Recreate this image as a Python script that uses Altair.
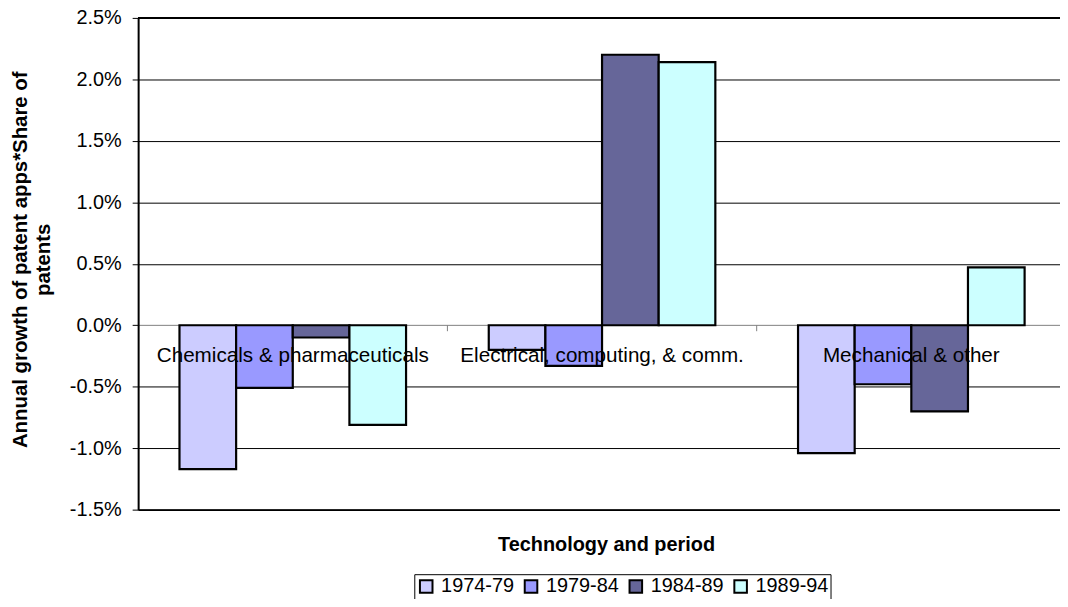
import altair as alt
import pandas as pd

categories = ["Chemicals & pharmaceuticals", "Electrical, computing, & comm.", "Mechanical & other"]
periods = ["1974-79", "1979-84", "1984-89", "1989-94"]
v1974_79 = [-0.0117, -0.0020, -0.0104]
v1979_84 = [-0.0051, -0.0033, -0.0048]
v1984_89 = [-0.0010, 0.0220, -0.0070]
v1989_94 = [-0.0081, 0.0214, 0.0047]
colors = ["#CCCCFF", "#9999FF", "#666699", "#CCFFFF"]
y_ticks = [-0.015, -0.01, -0.005, 0.0, 0.005, 0.01, 0.015, 0.02, 0.025]

rows = []
for p, vals in zip(periods, [v1974_79, v1979_84, v1984_89, v1989_94]):
    for c, v in zip(categories, vals):
        rows.append({"category": c, "period": p, "value": v})
df = pd.DataFrame(rows)
cat_df = pd.DataFrame({"category": categories})
bound_df = pd.DataFrame({"category": categories[1:]})

FONT = "Liberation Sans"
W, H = 928, 495

xscale = alt.Scale(domain=categories, range=[0, 934], paddingInner=0, paddingOuter=0)
yscale = alt.Scale(domain=[-0.015, 0.025], nice=False, zero=False)

bars = alt.Chart(df).mark_bar(stroke="black", strokeWidth=2.2).encode(
    x=alt.X("category:N", scale=xscale, sort=categories,
            axis=alt.Axis(title="Technology and period", labels=False, ticks=False,
                          domain=True, grid=False, titlePadding=25,
                          titleX=471, titleAlign="center",
                          domainColor="black", domainWidth=2,
                          titleFont=FONT, titleFontSize=20, titleFontWeight="bold",
                          titleColor="black")),
    xOffset=alt.XOffset("period:N", sort=periods,
                        scale=alt.Scale(domain=periods, paddingInner=0, paddingOuter=0.73)),
    y=alt.Y("value:Q", scale=yscale, stack=None,
            axis=alt.Axis(values=y_ticks, format=".1%",
                          labelExpr="replace(datum.label, '\u2212', '-')",
                          title=["Annual growth of patent apps*Share of", "patents"],
                          titlePadding=16, titleLineHeight=23, titleY=243,
                          labelPadding=11, tickSize=6, grid=True,
                          ticks=True, domain=True,
                          gridColor=alt.condition("datum.value === 0",
                                                  alt.value("#808080"), alt.value("black")),
                          gridWidth=1, domainColor="black", domainWidth=2,
                          tickColor="black", tickWidth=1,
                          labelFont=FONT, labelFontSize=20, labelColor="black",
                          titleFont=FONT, titleFontSize=20.5, titleFontWeight="bold",
                          titleColor="black")),
    color=alt.Color("period:N", sort=periods,
                    scale=alt.Scale(domain=periods, range=colors),
                    legend=alt.Legend(orient="none", legendX=278, legendY=560,
                                      direction="horizontal", title=None)),
)

bound_ticks = alt.Chart(bound_df).mark_rule(color="#808080", strokeWidth=1, y2Offset=6).encode(
    x=alt.X("category:N", scale=xscale, bandPosition=0),
    y=alt.YDatum(0, scale=yscale),
    y2=alt.Y2Datum(0),
)

labels = alt.Chart(cat_df).mark_text(dy=31, fontSize=20.8, font=FONT, color="black",
                                     baseline="middle", align="center").encode(
    x=alt.X("category:N", scale=xscale),
    y=alt.YDatum(0, scale=yscale),
    text="category:N",
)

top_border = alt.Chart(cat_df).mark_rule(color="black", strokeWidth=2).encode(
    y=alt.YDatum(0.025, scale=yscale)
)

chart = alt.layer(bars, bound_ticks, labels, top_border).properties(
    width=W, height=H,
    autosize=alt.AutoSizeParams(type="none"),
    padding={"left": 131, "top": 8, "right": 0, "bottom": 88},
).configure_view(stroke=None).configure(background="white").configure_legend(
    strokeColor="black", fillColor="white", padding=2,
    symbolType="square", symbolSize=160, symbolStrokeColor="black", symbolStrokeWidth=2,
    labelFont=FONT, labelFontSize=20, labelColor="black", columnPadding=5.5, labelOffset=5,
)

chart.save("out.html", embed_options={"renderer": "svg", "actions": False})
